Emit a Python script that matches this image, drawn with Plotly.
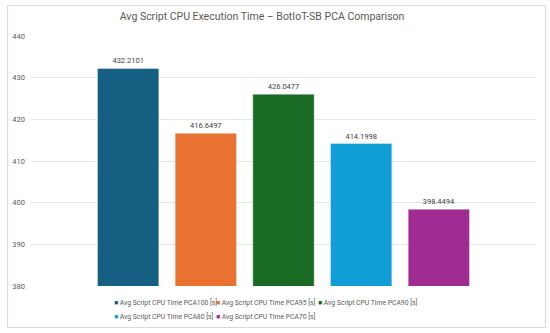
import plotly.graph_objects as go

series_names = [
    "Avg Script CPU Time PCA100 [s]",
    "Avg Script CPU Time PCA95 [s]",
    "Avg Script CPU Time PCA90 [s]",
    "Avg Script CPU Time PCA80 [s]",
    "Avg Script CPU Time PCA70 [s]",
]
values = [432.2101, 416.6497, 426.0477, 414.1998, 398.4494]
colors = ["#156082", "#E97132", "#196B24", "#0F9ED5", "#A02B93"]
y_ticks = [380, 390, 400, 410, 420, 430, 440]
title_text = "Avg Script CPU Execution Time – BotIoT-SB PCA Comparison"

FONT = "Roboto, sans-serif"
W, H = 550, 333
ML, MR, MT, MB = 29, 14, 36, 47
PW = W - ML - MR
PH = H - MT - MB

fig = go.Figure()
for name, val, col in zip(series_names, values, colors):
    fig.add_trace(go.Bar(
        x=[""], y=[val], name=name, marker_color=col,
        text=[f"{val:.4f}"], textposition="outside",
        textfont=dict(size=7.5, color="#404040", family=FONT),
        cliponaxis=False, showlegend=False,
    ))

# legend drawn as grid of annotations (3 columns)
leg_x0, leg_dx = 110, 102.5
leg_y = [302.7, 316.7]
annotations = []
for i, (name, col) in enumerate(zip(series_names, colors)):
    r, c = divmod(i, 3)
    px = leg_x0 + c * leg_dx
    py = leg_y[r]
    annotations.append(dict(
        x=(px - ML) / PW, y=(MT + PH - py) / PH, xref="paper", yref="paper",
        xanchor="left", yanchor="middle", showarrow=False,
        text=f"<span style='color:{col}'>■</span> {name}",
        font=dict(size=6.8, color="#595959", family=FONT),
    ))

fig.update_layout(
    width=W, height=H,
    margin=dict(l=ML, r=MR, t=MT, b=MB),
    paper_bgcolor="white", plot_bgcolor="white",
    barmode="group", bargap=0.231, bargroupgap=0.21,
    title=dict(text=title_text, x=(261 - ML) / PW, xref="paper", xanchor="center",
               y=1 - 16 / H, yanchor="middle",
               font=dict(size=10.5, color="#595959", family=FONT)),
    xaxis=dict(showticklabels=False, showgrid=False, zeroline=False, showline=False),
    yaxis=dict(range=[380, 440], tickvals=y_ticks, showgrid=True, gridcolor="#E6E6E6",
               gridwidth=1, zeroline=False, showline=False, ticks="",
               tickfont=dict(size=7.5, color="#595959", family=FONT),
               ticklabelstandoff=5),
    annotations=annotations,
    shapes=[dict(type="rect", xref="paper", yref="paper",
                 x0=(5.5 - ML) / PW, x1=(545.5 - ML) / PW,
                 y0=(MT + PH - 327.5) / PH, y1=(MT + PH - 5.5) / PH,
                 line=dict(color="#D9D9D9", width=1), layer="below")],
    font=dict(family=FONT),
)

fig.write_html("out.html", config={"displayModeBar": False},
               post_script="document.body.style.margin='0';")
